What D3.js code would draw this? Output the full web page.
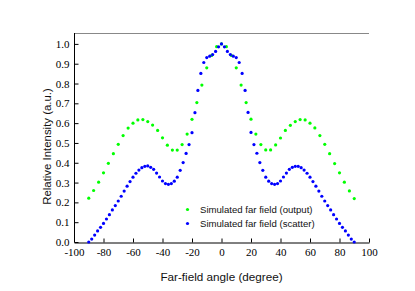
<!DOCTYPE html>
<html>
<head>
<meta charset="utf-8">
<script src="https://cdn.jsdelivr.net/npm/d3@7"></script>
<style>
  html, body { margin: 0; padding: 0; background: #fff; }
  svg { display: block; }
  .tick text { font-family: "Liberation Serif", "DejaVu Serif", serif; font-size: 11px; }
</style>
</head>
<body>
<svg id="chart" width="415" height="291"></svg>
<script>
// angles (degree) and relative intensity
const outputAngles = [
  -90, -86.7, -83.3, -80, -76.7, -73.3, -70, -66.7, -63.3, -60, -56.7, -53.3, -50, -46.7,
  -43.3, -40, -36.7, -33.3, -30, -26.7, -23.3, -20, -16.7, -13.3, -10, -6.7, -3.3, 0,
  3.3, 6.7, 10, 13.3, 16.7, 20, 23.3, 26.7, 30, 33.3, 36.7, 40, 43.3, 46.7,
  50, 53.3, 56.7, 60, 63.3, 66.7, 70, 73.3, 76.7, 80, 83.3, 86.7, 90
];
const outputValues = [
  0.221, 0.260, 0.302, 0.349, 0.397, 0.446, 0.493, 0.537, 0.575, 0.600, 0.616, 0.618, 0.608, 0.590,
  0.563, 0.526, 0.489, 0.464, 0.464, 0.492, 0.545, 0.619, 0.704, 0.792, 0.879, 0.942, 0.986, 1.000,
  0.986, 0.942, 0.879, 0.792, 0.704, 0.620, 0.545, 0.492, 0.465, 0.465, 0.490, 0.525, 0.563, 0.589,
  0.608, 0.618, 0.616, 0.600, 0.576, 0.537, 0.493, 0.446, 0.396, 0.349, 0.302, 0.258, 0.219
];

const scatterAngles = [
  -90, -88, -86, -84, -82, -80, -78, -76, -74, -72, -70, -68, -66, -64, -62, -60,
  -58, -56, -54, -52, -50, -48, -46, -44, -42, -40, -38, -36, -34, -32, -30, -28,
  -26, -24, -22, -20, -18, -16, -14, -12, -10, -8, -6, -4, -2, 0,
  2, 4, 6, 8, 10, 12, 14, 16, 18, 20, 22, 24, 26, 28, 30, 32,
  34, 36, 38, 40, 42, 44, 46, 48, 50, 52, 54, 56, 58, 60, 62, 64,
  66, 68, 70, 72, 74, 76, 78, 80, 82, 84, 86, 88, 90
];
const scatterValues = [
  0.000, 0.015, 0.035, 0.056, 0.074, 0.094, 0.116, 0.138, 0.162, 0.184, 0.207, 0.231, 0.257, 0.282, 0.305, 0.327,
  0.347, 0.363, 0.375, 0.382, 0.384, 0.377, 0.367, 0.348, 0.328, 0.308, 0.295, 0.291, 0.295, 0.307, 0.327, 0.362,
  0.401, 0.447, 0.492, 0.552, 0.653, 0.765, 0.851, 0.906, 0.931, 0.938, 0.946, 0.962, 0.985, 1.000,
  0.985, 0.962, 0.946, 0.938, 0.931, 0.906, 0.851, 0.765, 0.654, 0.553, 0.492, 0.448, 0.401, 0.362, 0.327, 0.307,
  0.295, 0.291, 0.295, 0.308, 0.328, 0.348, 0.367, 0.377, 0.382, 0.382, 0.375, 0.363, 0.347, 0.327, 0.305, 0.282,
  0.257, 0.231, 0.207, 0.184, 0.162, 0.138, 0.116, 0.094, 0.074, 0.056, 0.035, 0.015, 0.000
];

const xTicks = [-100, -80, -60, -40, -20, 0, 20, 40, 60, 80, 100];
const yTicks = [0, 0.1, 0.2, 0.3, 0.4, 0.5, 0.6, 0.7, 0.8, 0.9, 1.0];

const seriesNames = ['Simulated far field (output)', 'Simulated far field (scatter)'];
const seriesColors = ['#00ff00', '#0000ff'];

// plot box in pixels
const box = { left: 74, right: 369, top: 33, bottom: 242 };

const svg = d3.select('#chart');

const x = d3.scaleLinear().domain([-100, 100]).range([box.left, box.right]);
const y = d3.scaleLinear().domain([0, 1.055]).range([box.bottom, box.top]);

// grey frame line on top
svg.append('line')
  .attr('x1', box.left).attr('x2', box.right)
  .attr('y1', box.top + 0.5).attr('y2', box.top + 0.5)
  .attr('stroke', '#888').attr('stroke-width', 1);

const sans = '"Liberation Sans", Arial, sans-serif';

// y axis, ticks pointing inward
const yAxis = svg.append('g')
  .attr('transform', `translate(${box.left + 0.5},0)`)
  .call(d3.axisLeft(y).tickValues(yTicks).tickFormat(d3.format('.1f'))
    .tickSizeInner(-4).tickSizeOuter(0).tickPadding(5));
yAxis.select('.domain').attr('d', `M0,${box.top}V${box.bottom}`).attr('stroke', '#000');
yAxis.attr('font-family', null).attr('font-size', null);
yAxis.selectAll('text').attr('fill', '#000');

// x axis, ticks pointing inward; plain hyphen for negatives
const xAxis = svg.append('g')
  .attr('transform', `translate(0,${box.bottom + 0.5})`)
  .call(d3.axisBottom(x).tickValues(xTicks).tickFormat(d => String(d))
    .tickSizeInner(-4).tickSizeOuter(0).tickPadding(6));
xAxis.select('.domain').attr('stroke', '#000');
xAxis.attr('font-family', null).attr('font-size', null);
xAxis.selectAll('text').attr('fill', '#000');

// axis titles
svg.append('text')
  .attr('x', (box.left + box.right) / 2).attr('y', 281)
  .attr('text-anchor', 'middle')
  .style('font-family', sans).style('font-size', '11.7px')
  .attr('fill', '#111')
  .text('Far-field angle (degree)');

svg.append('text')
  .attr('transform', `translate(51,${(88 + 205) / 2}) rotate(-90)`)
  .attr('text-anchor', 'middle')
  .style('font-family', sans).style('font-size', '11.4px')
  .attr('fill', '#111')
  .text('Relative Intensity (a.u.)');

// points
const series = [
  outputAngles.map((a, i) => ({ a, v: outputValues[i] })),
  scatterAngles.map((a, i) => ({ a, v: scatterValues[i] }))
];

series.forEach((pts, k) => {
  svg.append('g')
    .selectAll('circle')
    .data(pts)
    .join('circle')
    .attr('cx', d => x(d.a))
    .attr('cy', d => y(d.v))
    .attr('r', 1.6)
    .attr('fill', seriesColors[k]);
});

// legend
const legend = svg.append('g');
seriesNames.forEach((name, k) => {
  const ly = 209.5 + k * 14;
  legend.append('circle')
    .attr('cx', 187.5).attr('cy', ly).attr('r', 1.6)
    .attr('fill', seriesColors[k]);
  legend.append('text')
    .attr('x', 200).attr('y', ly + 3.5)
    .style('font-family', sans).style('font-size', '9.6px')
    .attr('fill', '#111')
    .text(name);
});
</script>
</body>
</html>
